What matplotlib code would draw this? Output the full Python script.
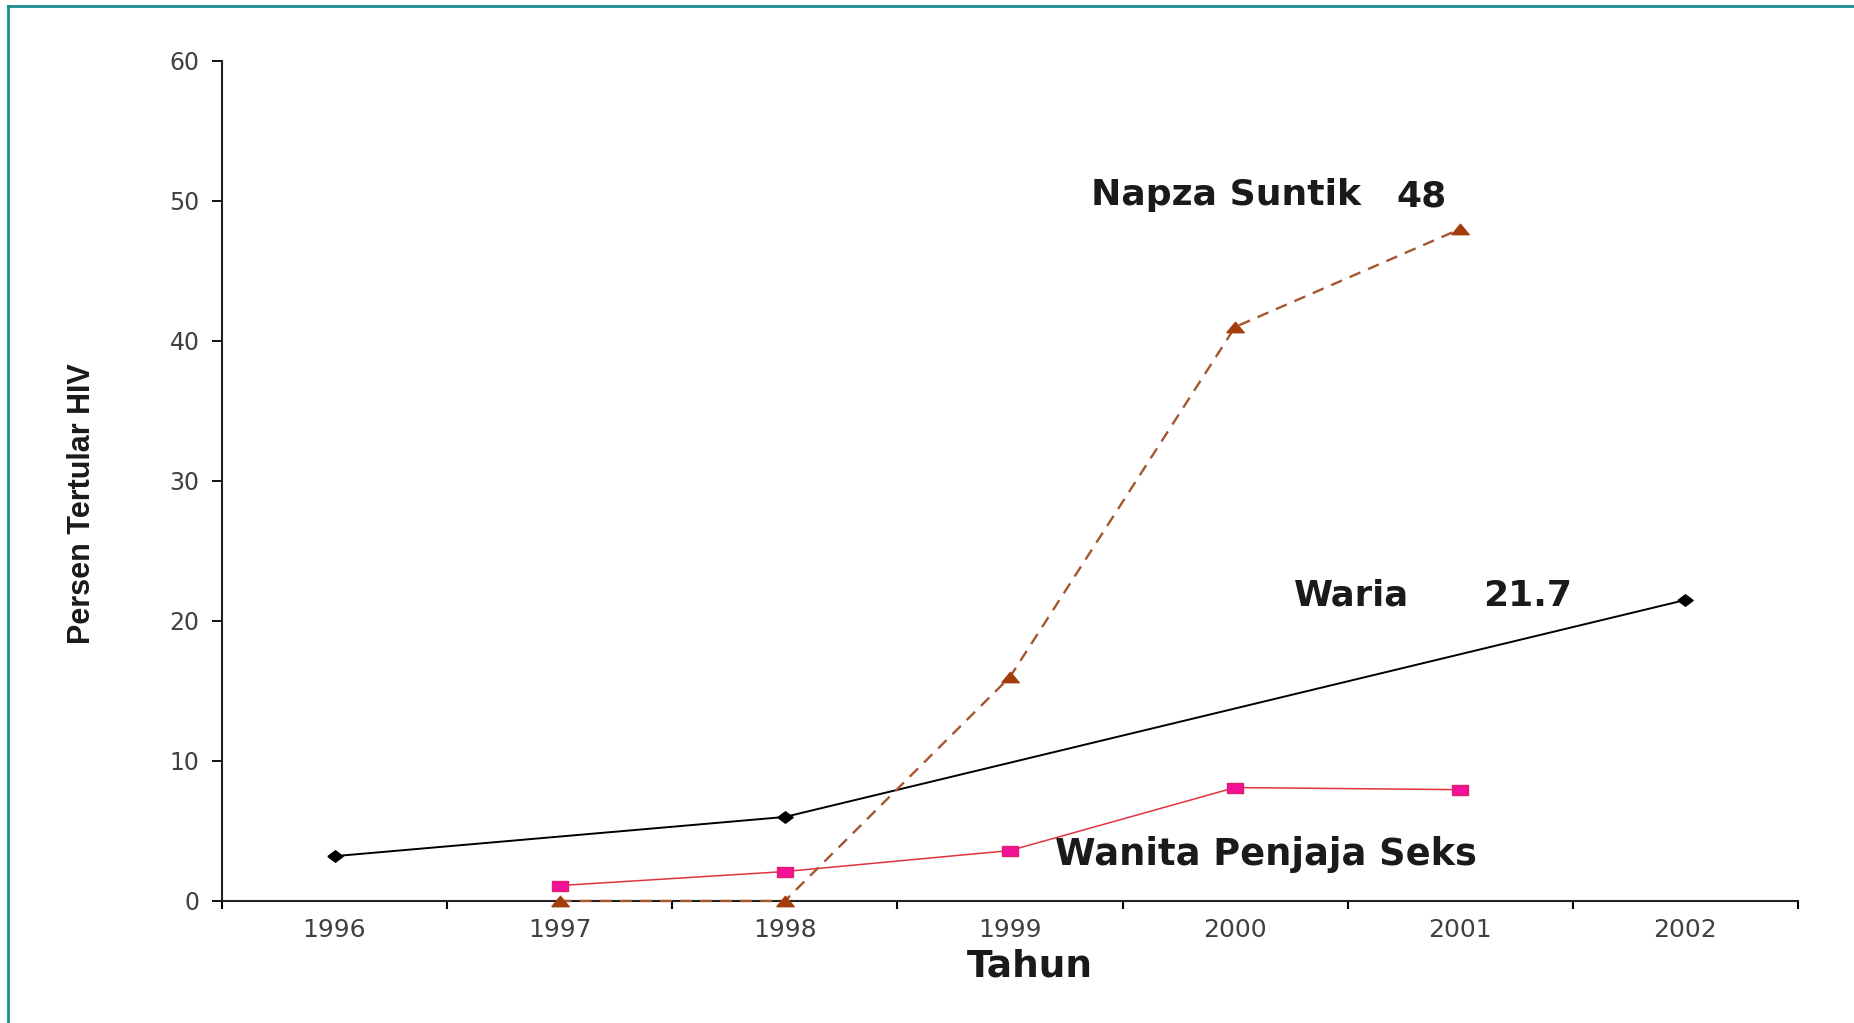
import matplotlib
matplotlib.use("Agg")
import matplotlib.pyplot as plt
from matplotlib import font_manager
from matplotlib.font_manager import FontProperties
from matplotlib.lines import Line2D

# data
years = ["1996", "1997", "1998", "1999", "2000", "2001", "2002"]
waria_idx = [0, 2, 6]
waria_val = [3.2, 6.0, 21.5]
napza_idx = [1, 2, 3, 4, 5]
napza_val = [0, 0, 16.0, 41.0, 48.0]
wps_idx = [1, 2, 3, 4, 5]
wps_val = [1.1, 2.1, 3.6, 8.1, 7.95]
y_ticks = [0, 10, 20, 30, 40, 50, 60]

# wide markers (the source image is stretched sideways)
tri = [(-1.0, -0.6), (1.0, -0.6), (0.0, 0.6), (-1.0, -0.6)]
box = [(-1.0, -0.65), (1.0, -0.65), (1.0, 0.65), (-1.0, 0.65), (-1.0, -0.65)]
dia = [(-1.0, 0.0), (0.0, 0.75), (1.0, 0.0), (0.0, -0.75), (-1.0, 0.0)]

fig = plt.figure(figsize=(18.54, 10.23), dpi=100)
ax = fig.add_axes([0.1197, 0.1193, 0.8501, 0.8211])

ax.plot(waria_idx, waria_val, color="black", lw=1.4, marker=dia, ms=11,
        mfc="black", mec="black", zorder=3)
ax.plot(napza_idx, napza_val, color="#A5562E", lw=1.7, ls=(0, (5, 3.5)),
        marker=tri, ms=12.5, mfc="#A23E0C", mec="#A23E0C", zorder=5, clip_on=False)
ax.plot(wps_idx, wps_val, color="#E23440", lw=1.1, marker=box, ms=12,
        mfc="#F5109A", mec="#E0206A", zorder=4)

ax.set_xlim(-0.5, 6.5)
ax.set_ylim(0, 60)
ax.set_xticks([i - 0.5 for i in range(len(years) + 1)])
ax.set_xticklabels([])
ax.set_xticks(range(len(years)), minor=True)
ax.set_xticklabels(years, minor=True, fontsize=18, color="#404040")
ax.tick_params(axis="x", which="major", direction="out", length=6, width=1.5)
ax.tick_params(axis="x", which="minor", length=0, pad=12)
ax.set_yticks(y_ticks)
ax.set_yticklabels([str(v) for v in y_ticks], fontsize=17, color="#404040")
ax.tick_params(axis="y", direction="out", length=7, width=1.3, pad=9)

for s in ["top", "right"]:
    ax.spines[s].set_visible(False)
for s in ["left", "bottom"]:
    ax.spines[s].set_linewidth(1.5)
    ax.spines[s].set_color("#222222")

lab = dict(fontweight="bold", color="#1a1a1a", va="center")
ax.text(3.36, 50.4, "Napza Suntik", ha="left", fontsize=26, **lab)
ax.text(4.83, 50.3, "48", ha="center", fontsize=26, **lab)
ax.text(4.26, 21.8, "Waria", ha="left", fontsize=25.5, **lab)
ax.text(5.30, 21.8, "21.7", ha="center", fontsize=26, **lab)
ax.text(3.20, 3.3, "Wanita Penjaja Seks", ha="left", fontsize=26.5, **lab)

fig.text(0.5556, 0.0557, "Tahun", fontsize=27, fontweight="bold",
         color="#1a1a1a", ha="center", va="center")

try:
    font_manager.findfont(FontProperties(family="Liberation Sans Narrow", weight="bold"),
                          fallback_to_default=False)
    yfam, ysize = "Liberation Sans Narrow", 27
except Exception:
    yfam, ysize = "Liberation Sans", 22
fig.text(0.044, 0.5078, "Persen Tertular HIV", family=yfam, fontsize=ysize,
         fontweight="bold", color="#1a1a1a", rotation=90, ha="center", va="center")

# teal frame along top and left edge
frame_c = "#1A8C8C"
fig.add_artist(Line2D([8 / 1854, 1], [1 - 6 / 1023, 1 - 6 / 1023],
                      transform=fig.transFigure, color=frame_c, lw=2))
fig.add_artist(Line2D([8 / 1854, 8 / 1854], [0, 1 - 6 / 1023],
                      transform=fig.transFigure, color=frame_c, lw=2))

fig.savefig("out.png", dpi=100)
